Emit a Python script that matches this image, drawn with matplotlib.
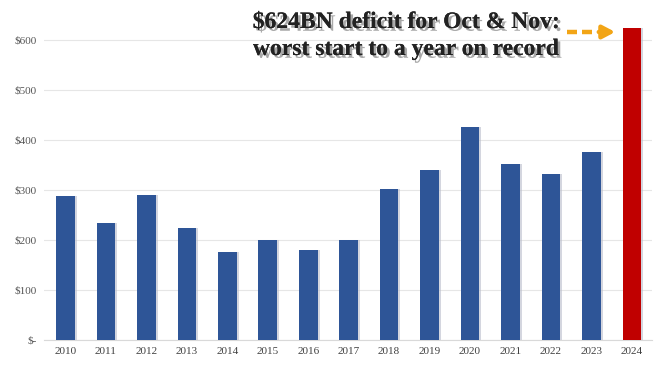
import matplotlib
matplotlib.use("Agg")
import matplotlib.pyplot as plt
import matplotlib.patheffects as pe
from matplotlib.lines import Line2D

matplotlib.rcParams['font.family'] = 'Liberation Serif'

years = [str(y) for y in range(2010, 2025)]
deficit = [288, 234, 289, 223, 176, 199, 179, 199, 301, 341, 427, 353, 333, 377, 624]
yticks = [0, 100, 200, 300, 400, 500, 600]
ytick_labels = ["$-", "$100", "$200", "$300", "$400", "$500", "$600"]
headline = ["$624BN deficit for Oct & Nov:", "worst start to a year on record"]

blue = "#2E5597"
red = "#C00000"
orange = "#F2A516"
colors = [blue] * (len(years) - 1) + [red]

W, H = 660, 371
fig = plt.figure(figsize=(6.6, 3.71), dpi=100)
ax = fig.add_axes([0.0667, 0.0836, 0.9213, 0.8894])

x = list(range(len(years)))
# soft shadow behind bars
ax.bar([i + 0.05 for i in x], deficit, width=0.46, color="#b8bccb", alpha=0.6, zorder=2,
       linewidth=0)
ax.bar(x, deficit, width=0.46, color=colors, zorder=3, linewidth=0)

ax.set_xlim(-0.53, 14.5)
ax.set_ylim(0, 660)
ax.set_yticks(yticks)
ax.set_yticklabels(ytick_labels)
ax.set_xticks(x)
ax.set_xticklabels(years)
ax.grid(True, axis="y", color="#e6e6e6", lw=0.8, zorder=0)
ax.tick_params(length=0, labelsize=8, colors="#404040", pad=5)
for lab in ax.get_yticklabels():
    lab.set_color("#555555")
for s in ["top", "right", "left"]:
    ax.spines[s].set_visible(False)
ax.spines["bottom"].set_color("#d9d9d9")
ax.spines["bottom"].set_zorder(1)

# headline, baselines at 28px and 55px from top
shadow = [pe.withSimplePatchShadow(offset=(2, -2), shadow_rgbFace="#555555", alpha=0.5), pe.Normal()]
for line, ybase in zip(headline, [28, 55]):
    fig.text(406 / W, 1 - ybase / H, line, ha="center", va="baseline", fontsize=17,
             fontweight="bold", color="#222222", path_effects=shadow)

# dashed orange arrow pointing at the 2024 bar
yarr = 1 - 32 / H
fig.add_artist(Line2D([567 / W, 577 / W], [yarr, yarr], color=orange, lw=3.2, solid_capstyle="butt"))
fig.add_artist(Line2D([582 / W, 592 / W], [yarr, yarr], color=orange, lw=3.2, solid_capstyle="butt"))
fig.add_artist(matplotlib.patches.FancyArrowPatch((596 / W, yarr), (618 / W, yarr),
               transform=fig.transFigure, arrowstyle="-|>,head_length=3.6,head_width=1.9",
               color=orange, lw=3.2, mutation_scale=2))

fig.savefig("out.png", dpi=100)
plt.close(fig)
